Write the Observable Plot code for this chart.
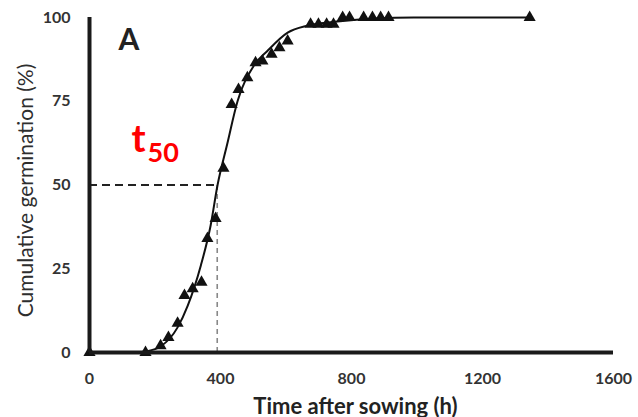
<!DOCTYPE html>
<html>
<head>
<meta charset="utf-8">
<script src="https://cdn.jsdelivr.net/npm/d3@7"></script>
<script src="https://cdn.jsdelivr.net/npm/@observablehq/plot@0.6"></script>
<style>
  html, body { margin: 0; padding: 0; background: #fff; }
  #chart svg { display: block; }
</style>
</head>
<body>
<div id="chart"></div>
<script>
// Observed germination (triangles)
const obsTime = [0, 171, 217, 241, 269, 290, 315, 342, 360, 385, 409, 434, 455, 482, 507, 528, 556, 580, 605, 675, 699, 724, 745, 773, 794, 837, 864, 889, 913, 1344];
const obsGerm = [0, 0, 2, 4.5, 8.7, 17, 19, 21, 34, 40, 55, 74, 78.5, 82, 86.5, 87, 89, 91, 93, 98, 98, 98, 98, 100, 100, 100, 100, 100, 100, 100];

// Fitted curve
const fitTime = [0, 150, 171, 217, 269, 300, 340, 370, 391, 420, 452, 501, 543, 605, 666, 757, 990, 1344];
const fitGerm = [0, 0, 0.3, 1.8, 7.5, 14, 26, 38, 50, 62, 75, 85.5, 90, 95.5, 97.6, 98.8, 100, 100];

// t50 reference
const t50 = 390;
const half = 50;

const xTicks = [0, 400, 800, 1200, 1600];
const yTicks = [0, 25, 50, 75, 100];

const xLabel = "Time after sowing (h)";
const yLabel = "Cumulative germination (%)";
const panelLabel = "A";

const obs = obsTime.map((t, i) => ({t, g: obsGerm[i]}));
const fit = fitTime.map((t, i) => ({t, g: fitGerm[i]}));

const font = "Lato, 'Open Sans', sans-serif";

const chart = Plot.plot({
  width: 638,
  height: 417,
  marginLeft: 89,
  marginRight: 25,
  marginTop: 17,
  marginBottom: 65,
  style: {fontFamily: font, background: "#fff", overflow: "visible"},
  x: {domain: [0, 1600], axis: null},
  y: {domain: [0, 100], axis: null},
  marks: [
    // tick labels (drawn through the scales)
    Plot.text(xTicks, {x: d => d, y: 0, text: d => String(d), dy: 26, fontSize: 16, fontWeight: "bold", fill: "#333", textAnchor: "middle", lineAnchor: "middle"}),
    Plot.text(yTicks, {x: 0, y: d => d, text: d => String(d), dx: -19, fontSize: 16, fontWeight: "bold", fill: "#333", textAnchor: "end", lineAnchor: "middle"}),
    // dashed t50 guides
    Plot.ruleY([half], {x1: 0, x2: t50, stroke: "#222", strokeWidth: 2, strokeDasharray: "8,5"}),
    Plot.ruleX([t50], {y1: 0, y2: half, stroke: "#888", strokeWidth: 1.6, strokeDasharray: "5,4"}),
    // fitted curve
    Plot.line(fit, {x: "t", y: "g", curve: "monotone-x", stroke: "#111", strokeWidth: 2}),
    // observations
    Plot.dot(obs, {x: "t", y: "g", symbol: "triangle", r: 4.5, fill: "#111", stroke: "none"}),
    // axis lines
    Plot.ruleY([0], {x1: 0, x2: 1600, stroke: "#1a1a1a", strokeWidth: 4}),
    Plot.ruleX([0], {y1: 0, y2: 100, stroke: "#1a1a1a", strokeWidth: 4}),
    // axis titles
    Plot.text([xLabel], {frameAnchor: "bottom", dx: 4, dy: 54, fontSize: 22, fontWeight: "bold", fill: "#222", textAnchor: "middle", lineAnchor: "middle"}),
    Plot.text([yLabel], {frameAnchor: "left", rotate: -90, dx: -63, dy: 5.5, fontSize: 21, fontWeight: "normal", fill: "#2e2e2e", textAnchor: "middle", lineAnchor: "middle"}),
    // annotations
    Plot.text([panelLabel], {frameAnchor: "top-left", dx: 39.5, dy: 23, fontSize: 30, fontWeight: "bold", fill: "#222", textAnchor: "middle", lineAnchor: "middle"}),
    Plot.text(["t"], {frameAnchor: "top-left", dx: 42, dy: 122, fontSize: 38, fontWeight: "bold", fill: "#f00", textAnchor: "start", lineAnchor: "middle"}),
    Plot.text(["50"], {frameAnchor: "top-left", dx: 58, dy: 136, fontSize: 27, fontWeight: "bold", fill: "#f00", textAnchor: "start", lineAnchor: "middle"})
  ]
});

document.getElementById("chart").appendChild(chart);
</script>
</body>
</html>
